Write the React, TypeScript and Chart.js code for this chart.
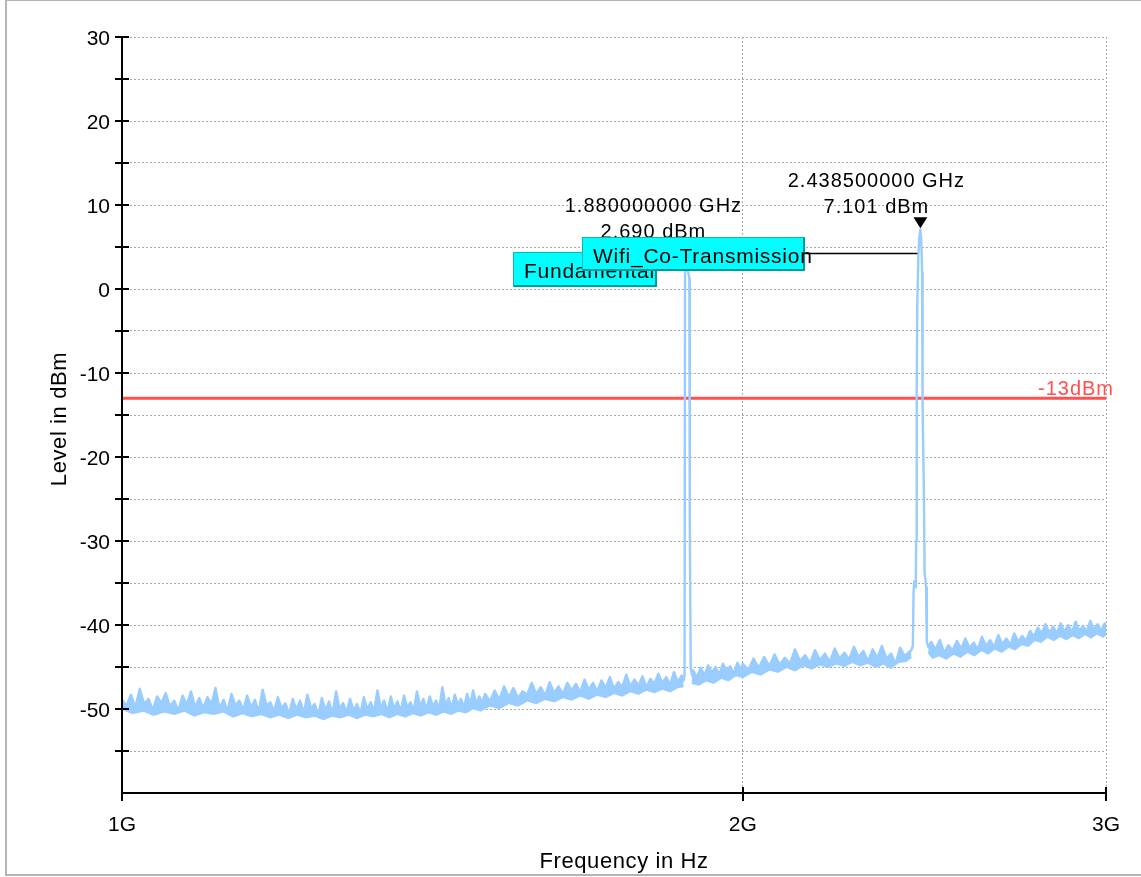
import React, { useEffect, useRef } from "react";
import { Chart, registerables } from "chart.js";

Chart.register(...registerables);

// ---------------- DATA ----------------
// Sweep frequencies (MHz) of the measured trace (peak detector)
const FREQ_MHZ: number[] = [
  1000, 1005, 1010, 1015, 1020, 1025, 1030, 1035, 1040, 1045,
  1050, 1055, 1060, 1065, 1070, 1075, 1080, 1085, 1090, 1095,
  1100, 1105, 1110, 1115, 1120, 1125, 1130, 1135, 1140, 1145,
  1150, 1155, 1160, 1165, 1170, 1175, 1180, 1185, 1190, 1195,
  1200, 1205, 1210, 1215, 1220, 1225, 1230, 1235, 1240, 1245,
  1250, 1255, 1260, 1265, 1270, 1275, 1280, 1285, 1290, 1295,
  1300, 1305, 1310, 1315, 1320, 1325, 1330, 1335, 1340, 1345,
  1350, 1355, 1360, 1365, 1370, 1375, 1380, 1385, 1390, 1395,
  1400, 1405, 1410, 1415, 1420, 1425, 1430, 1435, 1440, 1445,
  1450, 1455, 1460, 1465, 1470, 1475, 1480, 1485, 1490, 1495,
  1500, 1508, 1516, 1524, 1532, 1540, 1548, 1556, 1564, 1572,
  1580, 1588, 1596, 1604, 1612, 1620, 1628, 1636, 1644, 1652,
  1660, 1668, 1676, 1684, 1692, 1700, 1708, 1716, 1724, 1732,
  1740, 1748, 1756, 1764, 1772, 1780, 1788, 1796, 1804, 1812,
  1820, 1828, 1836, 1844, 1852, 1860, 1868,
  1872, 1874, 1875, 1880, 1884, 1885, 1887, 1890,
  1892, 1900, 1908, 1916, 1924, 1932, 1940, 1948, 1956, 1964, 1972, 1980, 1988, 1996,
  2000, 2012, 2024, 2036, 2048, 2060, 2072, 2084, 2096, 2108,
  2120, 2132, 2144, 2156, 2168, 2180, 2192, 2204, 2216, 2228,
  2240, 2252, 2264, 2276, 2288, 2300, 2312, 2324, 2336, 2348,
  2360, 2372, 2384, 2396, 2408,
  2414, 2418, 2420, 2422, 2424, 2426, 2427, 2428.5, 2430, 2433, 2436,
  2438.5, 2441, 2443, 2444, 2445, 2448, 2450, 2452, 2454, 2456, 2460,
  2468, 2480, 2492, 2504, 2516, 2528, 2540, 2552, 2564, 2576,
  2588, 2600, 2612, 2624, 2636, 2648, 2660, 2672, 2684, 2696,
  2708, 2720, 2732, 2744, 2756, 2768, 2780, 2792, 2804, 2816,
  2828, 2840, 2852, 2864, 2876, 2888, 2900, 2912, 2924, 2936,
  2948, 2960, 2972, 2984, 2996, 3000,
];

// Measured level (dBm) at each sweep frequency
const LEVEL_DBM: number[] = [
  -48.9, -49.6, -48.3, -49.8, -47.6, -49.4, -48.8, -50.1, -48.5, -49.3,
  -48.1, -49.7, -49.0, -50.2, -48.4, -49.5, -47.9, -49.8, -48.7, -49.9,
  -48.6, -49.4, -47.5, -49.9, -48.9, -50.3, -48.2, -49.6, -49.0, -50.1,
  -48.4, -49.8, -48.9, -50.4, -47.7, -49.6, -49.2, -50.3, -48.6, -49.9,
  -49.3, -50.6, -48.8, -50.1, -49.0, -50.5, -48.3, -49.9, -49.4, -50.7,
  -48.7, -50.2, -49.1, -50.6, -47.9, -50.0, -49.3, -50.4, -48.8, -50.2,
  -49.4, -50.5, -48.6, -50.1, -49.2, -50.3, -47.8, -49.9, -49.0, -50.4,
  -48.5, -50.0, -49.1, -50.3, -48.4, -49.8, -49.2, -50.2, -47.9, -49.7,
  -48.8, -50.1, -48.5, -49.7, -49.0, -50.0, -47.4, -49.6, -48.7, -49.9,
  -48.3, -49.5, -48.8, -49.8, -48.2, -49.4, -47.8, -49.3, -48.5, -49.2,
  -48.2, -49.1, -47.8, -48.9, -47.3, -48.6, -47.5, -48.7, -47.9, -48.3,
  -46.9, -48.2, -47.4, -48.4, -46.8, -48.1, -47.3, -48.2, -46.9, -47.8,
  -47.0, -48.0, -46.5, -47.7, -46.9, -47.9, -46.6, -47.5, -46.2, -47.6,
  -46.8, -47.4, -45.9, -47.3, -46.5, -47.2, -46.1, -47.4, -46.4, -47.0,
  -45.8, -46.9, -46.2, -47.1, -45.6, -46.8, -46.0,
  -46.6, -46.1, 1.9, 2.69, 1.2, -28.0, -45.2, -46.0,
  -45.4, -46.2, -45.1, -46.0, -44.8, -45.7, -45.0, -45.9, -44.6, -45.5, -44.9, -45.8, -44.5, -45.3,
  -44.6, -45.4, -44.0, -45.1, -43.8, -44.9, -43.5, -44.7, -43.9, -44.6,
  -42.9, -44.3, -43.6, -44.5, -43.0, -44.2, -43.4, -44.4, -42.8, -44.0,
  -43.3, -44.1, -42.6, -43.8, -43.1, -44.3, -42.9, -43.9, -42.5, -44.0,
  -43.4, -44.6, -42.7, -43.7, -43.2,
  -43.0, -42.5, -36.0, -34.8, -35.5, -34.9, -30.0, -12.0, -2.0, 4.0, 6.3,
  7.101, 5.8, 2.0, -8.0, -14.0, -24.0, -33.8, -34.5, -35.5, -42.0, -42.6,
  -42.0, -42.9, -41.8, -43.3, -42.4, -43.0, -41.9, -42.8, -41.6, -42.7,
  -42.1, -42.9, -41.4, -42.5, -41.8, -42.6, -41.2, -42.3, -41.6, -42.4,
  -41.0, -42.0, -41.3, -41.9, -40.7, -41.4, -40.3, -41.0, -39.9, -40.9,
  -40.2, -41.0, -39.8, -40.8, -40.0, -40.9, -39.6, -40.7, -40.1, -40.8,
  -39.5, -40.6, -39.9, -40.7, -39.8, -40.4,
];

// Lower edge of the noise band (min-hold), null where the carriers sit
const FLOOR_FREQ_MHZ: number[] = [
  1000, 1012, 1024, 1036, 1048, 1060, 1072, 1084, 1096, 1108,
  1120, 1132, 1144, 1156, 1168, 1180, 1192, 1204, 1216, 1228,
  1240, 1252, 1264, 1276, 1288, 1300, 1312, 1324, 1336, 1348,
  1360, 1372, 1384, 1396, 1408, 1420, 1432, 1444, 1456, 1468,
  1480, 1492, 1508, 1524, 1540, 1556, 1572, 1588, 1604, 1620,
  1636, 1652, 1668, 1684, 1700, 1716, 1732, 1748, 1764, 1780,
  1796, 1812, 1828, 1844, 1860, 1872, 1880,
  1889, 1904, 1920, 1936, 1952, 1968, 1984, 2000, 2020, 2040,
  2060, 2080, 2100, 2120, 2140, 2160, 2180, 2200, 2220, 2240,
  2260, 2280, 2300, 2320, 2340, 2360, 2380, 2400, 2414, 2438.5,
  2460, 2472, 2490, 2510, 2530, 2550, 2570, 2590, 2610, 2630,
  2650, 2670, 2690, 2710, 2730, 2750, 2770, 2790, 2810, 2830,
  2850, 2870, 2890, 2910, 2930, 2950, 2970, 2990, 3000,
];
const FLOOR_DBM: (number | null)[] = [
  -50.0, -50.5, -50.2, -50.7, -50.3, -50.6, -50.2, -50.8, -50.4, -50.6,
  -50.3, -50.9, -50.5, -50.9, -50.6, -51.0, -50.7, -51.1, -50.7, -51.0,
  -50.8, -51.2, -50.8, -51.0, -50.7, -51.1, -50.7, -50.9, -50.6, -51.0,
  -50.6, -50.9, -50.5, -50.8, -50.4, -50.7, -50.3, -50.6, -50.2, -50.4,
  -49.9, -50.2, -49.6, -49.9, -49.3, -49.6, -49.0, -49.3, -48.8, -49.1,
  -48.6, -48.9, -48.4, -48.8, -48.3, -48.6, -48.1, -48.4, -47.9, -48.2,
  -47.7, -48.0, -47.6, -47.9, -47.4, -47.3, null,
  -46.9, -47.1, -46.6, -46.9, -46.3, -46.6, -46.0, -46.2, -45.6, -45.9,
  -45.3, -45.6, -45.0, -45.4, -44.8, -45.2, -44.7, -45.0, -44.6, -44.9,
  -44.4, -44.8, -44.5, -45.0, -44.6, -45.1, -44.4, -44.3, -43.8, null,
  -43.2, -43.9, -43.6, -44.0, -43.4, -43.8, -43.2, -43.6, -43.0, -43.4,
  -42.8, -43.2, -42.6, -42.9, -42.3, -42.5, -41.8, -42.0, -41.4, -41.8,
  -41.3, -41.7, -41.2, -41.6, -41.1, -41.5, -41.0, -41.4, -41.1,
];

const LIMIT_DBM = -13;
const LIMIT_LABEL = "-13dBm";

const X_TICKS_HZ: number[] = [1e9, 2e9, 3e9];
const X_TICK_LABELS: string[] = ["1G", "2G", "3G"];
const Y_MIN = -60;
const Y_MAX = 30;
const Y_STEP = 5;

const X_TITLE = "Frequency in Hz";
const Y_TITLE = "Level in dBm";

// Markers
const MARKER_NAMES: string[] = ["Fundamental", "Wifi_Co-Transmission"];
const MARKER_FREQ_MHZ: number[] = [1880, 2438.5];
const MARKER_LEVEL_DBM: number[] = [2.69, 7.101];
const MARKER_FREQ_TEXT: string[] = ["1.880000000 GHz", "2.438500000 GHz"];
const MARKER_LEVEL_TEXT: string[] = ["2.690 dBm", "7.101 dBm"];

// ---------------- STYLE ----------------
const FONT = '"Liberation Sans", Arial, Helvetica, sans-serif';
const TRACE_COLOR = "#99ccff";
const LIMIT_COLOR = "#ff4f4f";
const GRID_COLOR = "#ababab";
// readout text offsets relative to marker (px)
const READOUT_DX: number[] = [-34, -44];
const READOUT_DY: number[] = [-54, -42];
// label boxes (canvas px): left, top, width, height
const LABEL_BOXES: number[][] = [
  [513, 252, 144, 35],
  [582, 237, 223, 34],
];

const overlayPlugin = {
  id: "overlay",
  afterDatasetsDraw(chart: any) {
    const { ctx, chartArea: ca, scales } = chart;
    const xs = scales.x;
    const ys = scales.y;
    ctx.save();

    // limit line label
    ctx.font = `20px ${FONT}`;
    (ctx as any).letterSpacing = "1px";
    ctx.fillStyle = LIMIT_COLOR;
    ctx.textAlign = "right";
    ctx.textBaseline = "alphabetic";
    ctx.fillText(LIMIT_LABEL, ca.right + 8, ys.getPixelForValue(LIMIT_DBM) - 3);

    // marker readouts and triangles
    ctx.fillStyle = "#000";
    ctx.textAlign = "center";
    for (let i = 0; i < MARKER_NAMES.length; i++) {
      const px = xs.getPixelForValue(MARKER_FREQ_MHZ[i] * 1e6);
      const py = ys.getPixelForValue(MARKER_LEVEL_DBM[i]);
      const tx = px + READOUT_DX[i];
      const ty = py + READOUT_DY[i];
      ctx.fillText(MARKER_FREQ_TEXT[i], tx, ty);
      ctx.fillText(MARKER_LEVEL_TEXT[i], tx, ty + 26);
      ctx.beginPath();
      ctx.moveTo(px - 7, py - 12);
      ctx.lineTo(px + 7, py - 12);
      ctx.lineTo(px, py - 1);
      ctx.closePath();
      ctx.fill();
    }

    // connector line for the wifi label
    {
      const i = 1;
      const px = xs.getPixelForValue(MARKER_FREQ_MHZ[i] * 1e6);
      const b = LABEL_BOXES[i];
      ctx.strokeStyle = "#000";
      ctx.lineWidth = 1.5;
      ctx.beginPath();
      ctx.moveTo(b[0] + b[2], b[1] + 16.5);
      ctx.lineTo(px - 3, b[1] + 16.5);
      ctx.stroke();
    }

    // label boxes
    ctx.font = `21px ${FONT}`;
    (ctx as any).letterSpacing = "0.75px";
    ctx.textAlign = "left";
    for (let i = 0; i < MARKER_NAMES.length; i++) {
      const [l, t, w, h] = LABEL_BOXES[i];
      ctx.fillStyle = "#00ffff";
      ctx.fillRect(l, t, w, h);
      ctx.strokeStyle = "#00b8b8";
      ctx.lineWidth = 1;
      ctx.strokeRect(l + 0.5, t + 0.5, w - 1, h - 1);
      ctx.strokeStyle = "#009a9a";
      ctx.lineWidth = 2;
      ctx.beginPath();
      ctx.moveTo(l + 1, t + h - 1);
      ctx.lineTo(l + w - 1, t + h - 1);
      ctx.lineTo(l + w - 1, t + 1);
      ctx.stroke();
      ctx.fillStyle = "#000";
      ctx.fillText(MARKER_NAMES[i], l + 11, t + 26);
    }
    (ctx as any).letterSpacing = "0px";
    ctx.restore();
  },
  afterDraw(chart: any) {
    const { ctx, chartArea: ca, scales } = chart;
    const xs = scales.x;
    const ys = scales.y;
    ctx.save();
    ctx.strokeStyle = "#000";
    ctx.lineWidth = 2;
    ctx.beginPath();
    // y axis
    ctx.moveTo(ca.left, ca.top - 1);
    ctx.lineTo(ca.left, ca.bottom + 8);
    // x axis
    ctx.moveTo(ca.left, ca.bottom);
    ctx.lineTo(ca.right + 1, ca.bottom);
    // y ticks
    for (let v = Y_MIN + Y_STEP; v <= Y_MAX; v += Y_STEP) {
      const y = Math.round(ys.getPixelForValue(v));
      ctx.moveTo(ca.left - 7, y);
      ctx.lineTo(ca.left + 7, y);
    }
    // x ticks
    for (const v of X_TICKS_HZ) {
      const x = Math.round(xs.getPixelForValue(v));
      ctx.moveTo(x, ca.bottom - 6);
      ctx.lineTo(x, ca.bottom + 8);
    }
    ctx.stroke();

    // axis titles
    ctx.fillStyle = "#000";
    ctx.font = `22px ${FONT}`;
    (ctx as any).letterSpacing = "0.6px";
    ctx.textAlign = "center";
    ctx.textBaseline = "alphabetic";
    ctx.fillText(X_TITLE, 624, 868);
    ctx.translate(66, 419);
    ctx.rotate(-Math.PI / 2);
    ctx.fillText(Y_TITLE, 0, 0);
    (ctx as any).letterSpacing = "0px";
    ctx.restore();
  },
};

export default function App() {
  const ref = useRef<HTMLCanvasElement>(null);

  useEffect(() => {
    const traceData = FREQ_MHZ.map((f, i) => ({ x: f * 1e6, y: LEVEL_DBM[i] }));
    const floorData = FLOOR_FREQ_MHZ.map((f, i) => ({ x: f * 1e6, y: FLOOR_DBM[i] }));
    const limitData = [
      { x: X_TICKS_HZ[0], y: LIMIT_DBM },
      { x: X_TICKS_HZ[X_TICKS_HZ.length - 1], y: LIMIT_DBM },
    ];
    const chart = new Chart(ref.current as HTMLCanvasElement, {
      type: "line",
      data: {
        datasets: [
          {
            label: "Trace",
            data: traceData,
            borderColor: TRACE_COLOR,
            borderWidth: 2.4,
            borderJoinStyle: "round",
            pointRadius: 0,
            tension: 0,
            fill: false,
          },
          {
            label: "Floor",
            data: floorData,
            borderColor: TRACE_COLOR,
            backgroundColor: TRACE_COLOR,
            borderWidth: 2,
            pointRadius: 0,
            tension: 0,
            spanGaps: false,
            fill: "-1",
          },
          {
            label: "Limit",
            data: limitData,
            borderColor: LIMIT_COLOR,
            borderWidth: 3,
            pointRadius: 0,
            fill: false,
          },
        ],
      },
      options: {
        animation: false,
        responsive: false,
        devicePixelRatio: 1,
        layout: { padding: { left: 0, top: 37, right: 35, bottom: 0 } },
        plugins: {
          legend: { display: false },
          tooltip: { enabled: false },
          title: { display: false },
          filler: { propagate: false },
        },
        scales: {
          x: {
            type: "logarithmic",
            min: X_TICKS_HZ[0],
            max: X_TICKS_HZ[X_TICKS_HZ.length - 1],
            afterBuildTicks: (s: any) => {
              s.ticks = X_TICKS_HZ.map((v) => ({ value: v }));
            },
            afterFit: (s: any) => {
              s.height = 84;
            },
            ticks: {
              autoSkip: false,
              maxRotation: 0,
              padding: 20,
              color: "#000",
              font: { family: FONT, size: 21 },
              callback: (_v: any, i: number) => X_TICK_LABELS[i],
            },
            grid: { color: GRID_COLOR, lineWidth: 1, drawTicks: false },
            border: { display: false, dash: [2, 2] },
          },
          y: {
            type: "linear",
            min: Y_MIN,
            max: Y_MAX,
            afterFit: (s: any) => {
              s.width = 122;
            },
            ticks: {
              stepSize: Y_STEP,
              autoSkip: false,
              padding: 12,
              labelOffset: 2.5,
              color: "#000",
              font: { family: FONT, size: 21 },
              callback: (v: any) =>
                Number(v) % 10 === 0 && Number(v) > Y_MIN ? String(v) : "",
            },
            grid: { color: GRID_COLOR, lineWidth: 1, drawTicks: false },
            border: { display: false, dash: [2, 2] },
          },
        },
      } as any,
      plugins: [overlayPlugin],
    });
    return () => chart.destroy();
  }, []);

  return (
    <div
      style={{
        position: "absolute",
        left: 0,
        top: 0,
        width: 1141,
        height: 877,
        background: "#fff",
        overflow: "hidden",
      }}
    >
      <div
        style={{
          position: "absolute",
          left: 5,
          top: -1,
          width: 1150,
          height: 877,
          border: "2px solid #b4b4b4",
          boxSizing: "border-box",
        }}
      />
      <canvas
        ref={ref}
        width={1141}
        height={877}
        style={{ position: "absolute", left: 0, top: 0 }}
      />
    </div>
  );
}
